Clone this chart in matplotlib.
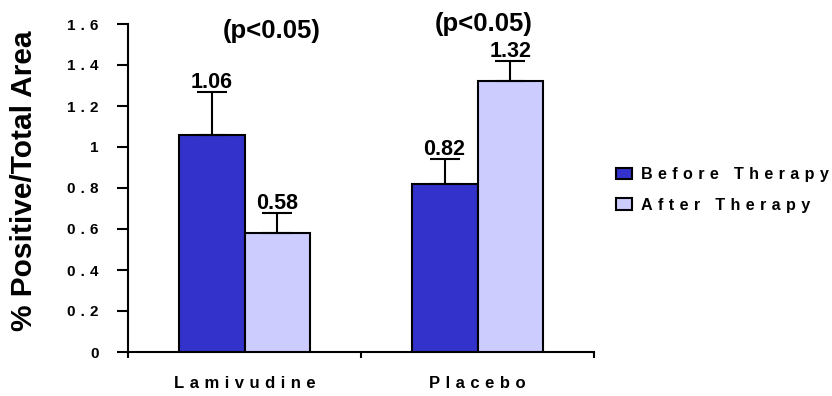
import matplotlib
matplotlib.use("Agg")
import matplotlib.pyplot as plt
from matplotlib.patches import Patch
import numpy as np

categories = ["Lamivudine", "Placebo"]
series_names = ["Before Therapy", "After Therapy"]
before_vals = [1.06, 0.82]
after_vals = [0.58, 1.32]
before_err = [0.21, 0.12]
after_err = [0.10, 0.10]
p_labels = ["(p<0.05)", "(p<0.05)"]
y_ticks = [0, 0.2, 0.4, 0.6, 0.8, 1, 1.2, 1.4, 1.6]
y_tick_labels = ["0", "0.2", "0.4", "0.6", "0.8", "1", "1.2", "1.4", "1.6"]
y_label = "% Positive/Total Area"

plt.rcParams["font.family"] = ["Liberation Sans", "DejaVu Sans"]
plt.rcParams["font.weight"] = "bold"

SP = "\u2004"


def spaced(s):
    return SP.join(s)


W, H = 832, 396
fig = plt.figure(figsize=(W / 100, H / 100), dpi=100)
ax = fig.add_axes([128 / W, 1 - 352 / H, (594 - 128) / W, (352 - 24) / H])

c_before = "#3333CC"
c_after = "#CCCCFF"
bw = 0.283
centers = np.arange(len(categories)) + 0.5

xb = centers - bw / 2
xa = centers + bw / 2
ax.bar(xb, before_vals, width=bw, color=c_before, edgecolor="black", linewidth=1.5, zorder=3)
ax.bar(xa, after_vals, width=bw, color=c_after, edgecolor="black", linewidth=1.5, zorder=3)

for xs, vals, errs in [(xb, before_vals, before_err), (xa, after_vals, after_err)]:
    ax.errorbar(xs, vals, yerr=[np.zeros(len(vals)), errs], fmt="none", ecolor="black",
                elinewidth=1.5, capsize=11, capthick=1.5, zorder=4, clip_on=False)
    for x, v, e in zip(xs, vals, errs):
        ax.annotate(f"{v:.2f}", (x, v + e), xytext=(0, 2.8), textcoords="offset points",
                    ha="center", va="baseline", fontsize=15.5, fontweight="bold",
                    annotation_clip=False)

# p-value annotations
p_pos = [(0.618, 1.565), (1.528, 1.60)]
for (px, py), lab in zip(p_pos, p_labels):
    ax.text(px, py, lab, ha="center", va="center", fontsize=18.5, fontweight="bold", clip_on=False)

ax.set_xlim(0, 2)
ax.set_ylim(0, 1.6)
ax.set_yticks(y_ticks)
ax.set_yticklabels([spaced(t) for t in y_tick_labels], fontsize=11, fontweight="bold")
ax.tick_params(axis="y", direction="out", length=8, width=1.5, pad=13)

ax.set_xticks([0, 1, 2])
ax.set_xticklabels(["", "", ""])
ax.set_xticks(centers, minor=True)
ax.set_xticklabels([spaced(c) for c in categories], minor=True, fontsize=12, fontweight="bold")
ax.tick_params(axis="x", which="major", direction="out", length=4.5, width=1.5)
ax.tick_params(axis="x", which="minor", length=0, pad=17)

for s in ["top", "right"]:
    ax.spines[s].set_visible(False)
for s in ["left", "bottom"]:
    ax.spines[s].set_linewidth(1.5)

fig.text(24 / W, 1 - 181 / H, y_label, rotation=90, ha="center", va="center",
         fontsize=21.5, fontweight="bold")

handles = [Patch(facecolor=c_before, edgecolor="black", linewidth=1.5),
           Patch(facecolor=c_after, edgecolor="black", linewidth=1.5)]
leg = fig.legend(handles, [spaced(n) for n in series_names], loc="center left",
                 bbox_to_anchor=(616 / W, 1 - 190 / H), frameon=False, borderpad=0,
                 borderaxespad=0, handlelength=1.0, handleheight=0.7, handletextpad=0.55,
                 labelspacing=0.95, prop={"size": 11.6, "weight": "bold"})

fig.savefig("out.png", dpi=100)
